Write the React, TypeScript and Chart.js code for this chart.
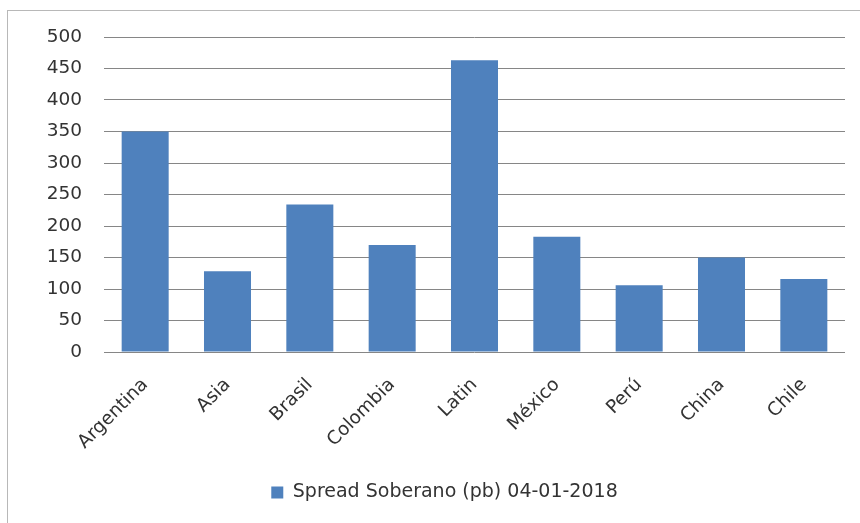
import React, { useEffect, useRef } from "react";
import { Chart, registerables } from "chart.js";

Chart.register(...registerables);

const categories = ["Argentina", "Asia", "Brasil", "Colombia", "Latin", "México", "Perú", "China", "Chile"];
const spreadValues = [350, 128, 234, 170, 463, 183, 106, 150, 116];
const seriesLabel = "Spread Soberano (pb) 04-01-2018";
const yMin = 0;
const yMax = 500;
const yStep = 50;

const FONT = "'DejaVu Sans', sans-serif";

export default function App() {
  const ref = useRef<HTMLCanvasElement | null>(null);

  useEffect(() => {
    const canvas = ref.current;
    if (!canvas) return;
    const chart = new Chart(canvas, {
      type: "bar",
      data: {
        labels: categories,
        datasets: [
          {
            label: seriesLabel,
            data: spreadValues,
            backgroundColor: "#4F81BD",
            borderWidth: 0,
            barPercentage: 0.571,
            categoryPercentage: 1,
          },
        ],
      },
      options: {
        responsive: false,
        animation: false,
        devicePixelRatio: 1,
        layout: { padding: { left: 44, right: 15, top: 37, bottom: 11 } },
        plugins: {
          tooltip: { enabled: false },
          legend: {
            position: "bottom",
            labels: {
              boxWidth: 12,
              boxHeight: 12,
              padding: 10,
              color: "#333333",
              font: { family: FONT, size: 19 },
            },
          },
        },
        scales: {
          x: {
            grid: { display: false, drawTicks: false },
            border: { display: false },
            ticks: {
              color: "#333333",
              font: { family: FONT, size: 18.5 },
              minRotation: 45,
              maxRotation: 45,
              padding: 22,
              autoSkip: false,
            },
            afterFit: (scale: any) => {
              scale.height = 121;
            },
          },
          y: {
            min: yMin,
            max: yMax,
            grid: { color: "#868686", lineWidth: 1, drawTicks: false },
            border: { display: false },
            ticks: {
              stepSize: yStep,
              color: "#333333",
              font: { family: FONT, size: 18.5 },
              padding: 22,
            },
            afterFit: (scale: any) => {
              scale.width = 60;
            },
          },
        },
      },
    });
    return () => chart.destroy();
  }, []);

  return (
    <div style={{ position: "fixed", left: 0, top: 0, width: 860, height: 523, overflow: "hidden", background: "#ffffff" }}>
      <div
        style={{
          position: "absolute",
          left: 7,
          top: 10,
          width: 1000,
          height: 1000,
          border: "1px solid #b8b8b8",
        }}
      />
      <canvas ref={ref} width={860} height={523} style={{ position: "absolute", left: 0, top: 0, width: 860, height: 523 }} />
    </div>
  );
}
